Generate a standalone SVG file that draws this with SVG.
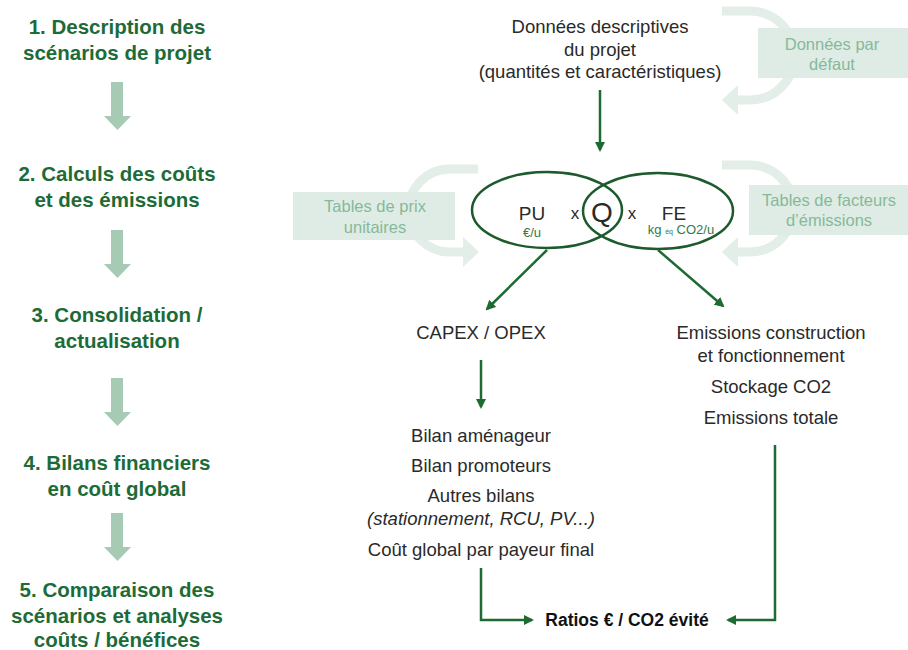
<svg xmlns="http://www.w3.org/2000/svg" width="908" height="650" viewBox="0 0 908 650">
<defs>
<style>
.step{font-family:"Liberation Sans",Arial,sans-serif;font-weight:bold;font-size:20.5px;fill:#1d6b37;text-anchor:middle}
.t{font-family:"Liberation Sans",Arial,sans-serif;font-size:18.5px;fill:#2a2a2a;text-anchor:middle}
.lt{font-family:"Liberation Sans",Arial,sans-serif;font-size:16.5px;fill:#86b99a;text-anchor:middle}
.g{fill:#2e7d47;font-family:"Liberation Sans",Arial,sans-serif;text-anchor:middle}
.big{fill:#a7cab4}
.box{fill:#dfece5}
.band{fill:none;stroke:#e3eee8;stroke-width:9}
.head{fill:#e3eee8}
.conn{fill:none;stroke:#1d6b32;stroke-width:2.5}
.ell{fill:none;stroke:#1d5a2c;stroke-width:2.5}
</style>
<marker id="ah" viewBox="0 0 10 10" refX="8" refY="5" markerWidth="4" markerHeight="4" orient="auto" markerUnits="strokeWidth">
<path d="M0,0 L10,5 L0,10 Z" fill="#1d6b32"/>
</marker>
</defs>

<g id="steps">
<g id="step1"><text class="step" x="117" y="34">1. Description des</text><text class="step" x="117" y="60">scénarios de projet</text></g>
<g id="step2"><text class="step" x="117" y="181">2. Calculs des coûts</text><text class="step" x="117" y="207">et des émissions</text></g>
<g id="step3"><text class="step" x="117" y="322">3. Consolidation /</text><text class="step" x="117" y="348">actualisation</text></g>
<g id="step4"><text class="step" x="117" y="470">4. Bilans financiers</text><text class="step" x="117" y="496">en coût global</text></g>
<g id="step5"><text class="step" x="117" y="597">5. Comparaison des</text><text class="step" x="117" y="623">scénarios et analyses</text><text class="step" x="117" y="647">coûts / bénéfices</text></g>
</g>

<g id="step-arrows">
<polygon class="big" points="111,82 123,82 123,116 131,116 117.5,130 104,116 111,116"/>
<polygon class="big" points="111,230 123,230 123,264 131,264 117.5,278 104,264 111,264"/>
<polygon class="big" points="111,378 123,378 123,412 131,412 117.5,426 104,412 111,412"/>
<polygon class="big" points="111,513 123,513 123,547 131,547 117.5,561 104,547 111,547"/>
</g>

<g id="loop-defaut">
<path class="band" d="M722,11 H750 A44.5 44.5 0 0 1 750,100 H736"/>
<polygon class="head" points="722,100 738,85 738,115"/>
<rect class="box" x="758" y="28" width="150" height="50"/>
<text class="lt" x="832" y="50">Données par</text>
<text class="lt" x="832" y="70">défaut</text>
</g>

<g id="loop-facteurs">
<path class="band" d="M722,165 H750 A43.5 43.5 0 0 1 750,252 H736"/>
<polygon class="head" points="722,252 738,237 738,267"/>
<rect class="box" x="749" y="185" width="159" height="50"/>
<text class="lt" x="829" y="206">Tables de facteurs</text>
<text class="lt" x="829" y="226">d’émissions</text>
</g>

<g id="loop-prix">
<path class="band" d="M478,169 H450 A41.5 41.5 0 0 0 450,252 H466"/>
<polygon class="head" points="479,252 463,237 463,267"/>
<rect class="box" x="293" y="192" width="162" height="48"/>
<text class="lt" x="375" y="212">Tables de prix</text>
<text class="lt" x="375" y="233">unitaires</text>
</g>

<g id="donnees">
<text class="t" x="600" y="33">Données descriptives</text>
<text class="t" x="600" y="56">du projet</text>
<text class="t" x="600" y="78">(quantités et caractéristiques)</text>
</g>

<g id="venn">
<ellipse class="ell" cx="547" cy="210" rx="75" ry="38"/>
<ellipse class="ell" cx="658" cy="211" rx="75" ry="38"/>
<text class="t" x="532" y="220" style="font-size:19px">PU</text>
<text class="g" x="532" y="237" style="font-size:13px">€/u</text>
<text class="t" x="575" y="219" style="font-size:17px">x</text>
<text class="t" x="602" y="222" style="font-size:28px">Q</text>
<text class="t" x="632" y="219" style="font-size:17px">x</text>
<text class="t" x="674" y="220" style="font-size:19px">FE</text>
<text class="g" x="681" y="234" style="font-size:13px">kg <tspan style="font-size:7px">éq</tspan> CO2/u</text>
</g>

<g id="capex"><text class="t" x="481" y="339">CAPEX / OPEX</text></g>

<g id="emissions">
<text class="t" x="771" y="339">Emissions construction</text>
<text class="t" x="771" y="362">et fonctionnement</text>
<text class="t" x="771" y="393">Stockage CO2</text>
<text class="t" x="771" y="424">Emissions totale</text>
</g>

<g id="bilans">
<text class="t" x="481" y="442">Bilan aménageur</text>
<text class="t" x="481" y="472">Bilan promoteurs</text>
<text class="t" x="481" y="502">Autres bilans</text>
<text class="t" x="481" y="525" style="font-style:italic">(stationnement, RCU, PV...)</text>
<text class="t" x="481" y="556">Coût global par payeur final</text>
</g>

<g id="ratios"><text class="t" x="627" y="626" style="font-weight:bold;font-size:17.5px;fill:#111">Ratios € / CO2 évité</text></g>

<g id="connectors">
<line class="conn" x1="600" y1="90" x2="600" y2="150" marker-end="url(#ah)"/>
<line class="conn" x1="547" y1="250" x2="487" y2="309" marker-end="url(#ah)"/>
<line class="conn" x1="658" y1="250" x2="723" y2="306" marker-end="url(#ah)"/>
<line class="conn" x1="481" y1="360" x2="481" y2="407" marker-end="url(#ah)"/>
<polyline class="conn" points="481,568 481,620 532,620" marker-end="url(#ah)"/>
<polyline class="conn" points="775,445 775,620 728,620" marker-end="url(#ah)"/>
</g>
</svg>
